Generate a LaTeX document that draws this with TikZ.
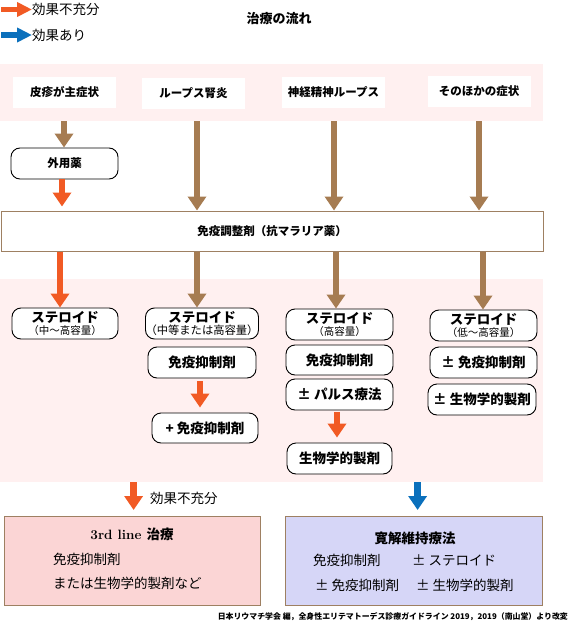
\documentclass[tikz,border=0pt]{standalone}
\usepackage{fontspec}
\newfontfamily\jp{Noto Sans CJK JP}
\usetikzlibrary{arrows.meta}
\definecolor{orangeA}{HTML}{F15A24}
\definecolor{brownA}{HTML}{A67C52}
\definecolor{blueA}{HTML}{0B70BC}
\definecolor{bandpink}{HTML}{FFF0F0}
\definecolor{thirdfill}{HTML}{FBD5D5}
\definecolor{remfill}{HTML}{D6D6F7}
\definecolor{boxbrown}{HTML}{9E8062}
\tikzset{
  every node/.style={font=\jp},
  band/.style={fill=bandpink, inner sep=0pt, anchor=north west},
  topbox/.style={fill=white, minimum width=103pt, minimum height=31pt, inner sep=0pt,
    font=\jp\bfseries\fontsize{11.5}{13}\selectfont},
  rbox/.style={draw=black, line width=0.9pt, fill=white, rounded corners=9pt,
    minimum width=107pt, minimum height=31pt, inner sep=0pt, align=center,
    font=\jp\bfseries\fontsize{13.5}{14}\selectfont},
  sbox/.style={rbox, minimum width=107pt, font=\jp\bfseries\fontsize{13.5}{13}\selectfont},
  subline/.style={font=\jp\mdseries\fontsize{10.5}{11}\selectfont},
  arr/.style={line width=6.5pt, -{Triangle[width=18pt,length=14pt]}},
  brarr/.style={arr, draw=brownA},
  orarr/.style={arr, draw=orangeA},
  blarr/.style={arr, draw=blueA},
  legarr/.style={line width=5.5pt, -{Triangle[width=14pt,length=15pt]}},
  bigtext/.style={font=\jp\fontsize{13.5}{15}\selectfont},
  leftlabel/.style={bigtext, anchor=west, inner sep=0pt},
}
\begin{document}
\begin{tikzpicture}[x=1pt,y=-1pt]
\useasboundingbox (0,0) rectangle (569,623);
% legend
\node[bigtext, anchor=west, inner sep=0pt] (leg1) at (32,9.5) {効果不充分};
\node[bigtext, anchor=west, inner sep=0pt] (leg2) at (32,35) {効果あり};
\draw[legarr, draw=orangeA] (1,9.5) -- (leg1.west);
\draw[legarr, draw=blueA] (1,35) -- (leg2.west);
% title
\node[font=\jp\bfseries\fontsize{13}{15}\selectfont] (title) at (279,19) {治療の流れ};
% top band
\node[band, minimum width=543pt, minimum height=57pt] (band1) at (0,64) {};
\node[topbox] (b1) at (64.5,92.5) {皮疹が主症状};
\node[topbox] (b2) at (193.5,93.5) {ループス腎炎};
\node[topbox] (b3) at (333.5,92.5) {神経精神ループス};
\node[topbox] (b4) at (479,91.5) {そのほかの症状};
% topical
\node[rbox, font=\jp\bfseries\fontsize{11.5}{13}\selectfont] (gaiyo) at (64.5,163.5) {外用薬};
% immunomodulator
\node[draw=boxbrown, line width=1pt, fill=white, minimum width=542pt, minimum height=40pt,
      inner sep=0pt, font=\jp\bfseries\fontsize{11.5}{13}\selectfont] (immuno) at (272,231) {免疫調整剤（抗マラリア薬）};
% arrows top
\draw[brarr] ([xshift=-0.5pt]b1.south |- band1.south) -- ([xshift=-0.5pt]b1.south |- gaiyo.north);
\draw[orarr, shorten >=4pt] ([xshift=-2.5pt]gaiyo.south) -- ([xshift=-2.5pt]gaiyo.south |- immuno.north);
\draw[brarr] ([xshift=3.5pt]b2.south |- band1.south) -- ([xshift=3.5pt]b2.south |- immuno.north);
\draw[brarr] ([xshift=0.5pt]b3.south |- band1.south) -- ([xshift=0.5pt]b3.south |- immuno.north);
\draw[brarr] (b4.south |- band1.south) -- (b4.south |- immuno.north);
% second band
\node[band, minimum width=543pt, minimum height=203pt] (band2) at (0,279) {};
% column 1
\node[sbox, minimum width=106pt] (c1s) at (65,323.5) {ステロイド\\[-1pt]{\jp\mdseries\fontsize{10.5}{11}\selectfont （中〜高容量）}};
% column 2
\node[sbox, minimum width=108pt] (c2s) at (202,323.5) {ステロイド\\[-1pt]{\jp\mdseries\fontsize{11.3}{11}\selectfont （中等または高容量）}};
\node[rbox, minimum width=108pt] (c2i) at (202,362.5) {免疫抑制剤};
\node[rbox, minimum width=106pt, minimum height=30pt] (c2p) at (205,428) {+ 免疫抑制剤};
% column 3
\node[sbox] (c3s) at (339.5,324.5) {ステロイド\\[-1pt]{\jp\mdseries\fontsize{10.5}{11}\selectfont （高容量）}};
\node[rbox, minimum height=30pt] (c3i) at (339.5,360) {免疫抑制剤};
\node[rbox] (c3p) at (339.5,394.5) {± パルス療法};
\node[rbox, minimum width=105pt] (c3b) at (339.5,458.5) {生物学的製剤};
% column 4
\node[sbox] (c4s) at (483.5,325.5) {ステロイド\\[-1pt]{\jp\mdseries\fontsize{10.5}{11}\selectfont （低〜高容量）}};
\node[rbox] (c4i) at (483.5,362.5) {± 免疫抑制剤};
\node[rbox, minimum width=108pt] (c4b) at (482,399.5) {± 生物学的製剤};
% arrows below immuno
\draw[orarr] ([xshift=-5pt]c1s.north |- immuno.south) -- ([xshift=-5pt]c1s.north);
\draw[brarr] ([xshift=-5pt]c2s.north |- immuno.south) -- ([xshift=-5pt]c2s.north);
\draw[brarr] ([xshift=-3.5pt]c3s.north |- immuno.south) -- ([xshift=-3.5pt]c3s.north);
\draw[brarr] ([xshift=-0.5pt]c4s.north |- immuno.south) -- ([xshift=-0.5pt]c4s.north);
\draw[orarr, shorten >=5pt] ([xshift=-2pt,yshift=-3pt]c2i.south) -- ([xshift=-2pt]c2i.south |- c2p.north);
\draw[orarr, shorten >=5pt] ([xshift=-2.5pt,yshift=-2pt]c3p.south) -- ([xshift=-2.5pt]c3p.south |- c3b.north);
% bottom boxes
\node[draw=boxbrown, line width=1.2pt, fill=thirdfill, minimum width=256pt, minimum height=89pt,
      inner sep=0pt, anchor=north west] (third) at (4,516) {};
\node[draw=boxbrown, line width=1.2pt, fill=remfill, minimum width=257pt, minimum height=89pt,
      inner sep=0pt, anchor=north west] (remis) at (285,516) {};
\draw[orarr, shorten >=6pt] ([xshift=1pt]third.north |- band2.south) -- ([xshift=1pt]third.north);
\draw[blarr, shorten >=6pt] ([xshift=3.5pt]remis.north |- band2.south) -- ([xshift=3.5pt]remis.north);
\node[leftlabel] (insuf) at (150,498) {効果不充分};
% third line contents
\node[font=\fontsize{13.5}{15}\selectfont] (t3h) at (132,534) {\rmfamily\bfseries 3rd line {\jp 治療}};
\node[leftlabel] (t3a) at (53,559) {免疫抑制剤};
\node[leftlabel] (t3b) at (53,583) {または生物学的製剤など};
% remission contents
\node[font=\jp\bfseries\fontsize{13.5}{15}\selectfont] (rh) at (415,538) {寛解維持療法};
\node[leftlabel] (ra) at (313,560) {免疫抑制剤};
\node[leftlabel] (rb) at (412,560) {± ステロイド};
\node[leftlabel] (rc) at (315,585) {± 免疫抑制剤};
\node[leftlabel] (rd) at (416,585) {± 生物学的製剤};
% footnote
\node[font=\jp\bfseries\fontsize{7.9}{9}\selectfont, anchor=east, inner sep=0pt] (foot) at (568,617)
  {日本リウマチ学会 編，全身性エリテマトーデス診療ガイドライン 2019，2019（南山堂）より改変};
\end{tikzpicture}
\end{document}
